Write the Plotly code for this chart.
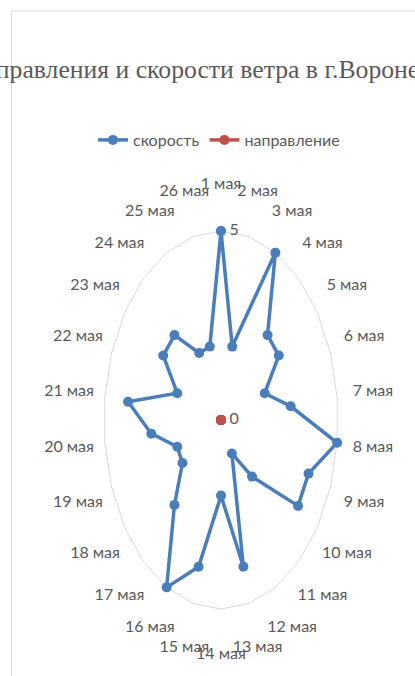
import math
import plotly.graph_objects as go

# ---- data ----
categories = ["1 мая", "2 мая", "3 мая", "4 мая", "5 мая", "6 мая", "7 мая", "8 мая",
              "9 мая", "10 мая", "11 мая", "12 мая", "13 мая", "14 мая", "15 мая",
              "16 мая", "17 мая", "18 мая", "19 мая", "20 мая", "21 мая", "22 мая",
              "23 мая", "24 мая", "25 мая", "26 мая"]
speed = [5, 2, 5, 3, 3, 2, 3, 5, 4, 4, 2, 1, 4, 2, 4, 5, 3, 2, 2, 3, 4, 2, 3, 3, 2, 2]
direction = [0] * 26
radial_ticks = [0, 5]
radial_max = 5
title_text = "направления и скорости ветра в г.Воронеж"

# ---- styling ----
W, H = 415, 676
BLUE = "#4A7EBB"
RED = "#C0504D"
GREY_TXT = "#595959"
GRID = "#D9D9D9"
SANS = "Lato, Roboto, sans-serif"
SERIF = "Liberation Serif, Times New Roman, serif"

n = len(categories)
angles = [2 * math.pi * i / n for i in range(n)]


def proj(r, a, sx=1.0, sy=1.0):
    return r * math.sin(a) * sx, r * math.cos(a) * sy


fig = go.Figure()

# gridline polygon at the max radial value
gx, gy = zip(*[proj(radial_max, a) for a in angles + angles[:1]])
fig.add_trace(go.Scatter(x=gx, y=gy, mode="lines", line=dict(color=GRID, width=1),
                         hoverinfo="skip", showlegend=False))

# speed series (closed loop)
sx, sy = zip(*[proj(r, a) for r, a in zip(speed + speed[:1], angles + angles[:1])])
fig.add_trace(go.Scatter(x=sx, y=sy, mode="lines+markers", name="скорость",
                         line=dict(color=BLUE, width=3.5),
                         marker=dict(color=BLUE, size=10)))

# direction series
dx, dy = zip(*[proj(r, a) for r, a in zip(direction + direction[:1], angles + angles[:1])])
fig.add_trace(go.Scatter(x=dx, y=dy, mode="lines+markers", name="направление",
                         line=dict(color=RED, width=3.5),
                         marker=dict(color=RED, size=10)))

# category labels, placed outside the grid
lx, ly = zip(*[proj(radial_max, a, 6.54 / 5, 6.22 / 5) for a in angles])
fig.add_trace(go.Scatter(x=lx, y=ly, mode="text", text=categories,
                         textposition="middle center",
                         textfont=dict(family=SANS, size=16, color=GREY_TXT),
                         hoverinfo="skip", showlegend=False))

# radial tick labels
tx, ty = zip(*[proj(t, 0) for t in radial_ticks])
fig.add_trace(go.Scatter(x=tx, y=ty, mode="markers+text", text=[str(t) for t in radial_ticks],
                         textposition="middle right",
                         marker=dict(size=12, opacity=0),
                         textfont=dict(family=SANS, size=16, color=GREY_TXT),
                         hoverinfo="skip", showlegend=False))

ux = 117 / 5   # px per unit, horizontal
uy = 189 / 5   # px per unit, vertical
cx, cy = 221, 420

fig.update_layout(
    width=W, height=H,
    margin=dict(l=0, r=0, t=0, b=0),
    paper_bgcolor="white", plot_bgcolor="white",
    xaxis=dict(range=[-cx / ux, (W - cx) / ux], visible=False, fixedrange=True),
    yaxis=dict(range=[-(H - cy) / uy, cy / uy], visible=False, fixedrange=True),
    showlegend=True,
    legend=dict(orientation="h", x=219 / W, xanchor="center", y=1 - 140 / H, yanchor="middle",
                font=dict(family=SANS, size=16, color=GREY_TXT), bgcolor="rgba(0,0,0,0)"),
    annotations=[dict(text=title_text, xref="paper", yref="paper", x=-31 / W, xanchor="left",
                      y=1 - 70 / H, yanchor="middle", showarrow=False,
                      font=dict(family=SERIF, size=25.7, color=GREY_TXT))],
    shapes=[dict(type="rect", xref="paper", yref="paper", x0=11.5 / W, x1=1.5,
                 y0=-0.5, y1=1 - 11 / H, line=dict(color=GRID, width=1), layer="below")],
)

fig.write_html("out.html", config={"displayModeBar": False},
               post_script="document.body.style.margin='0';")
